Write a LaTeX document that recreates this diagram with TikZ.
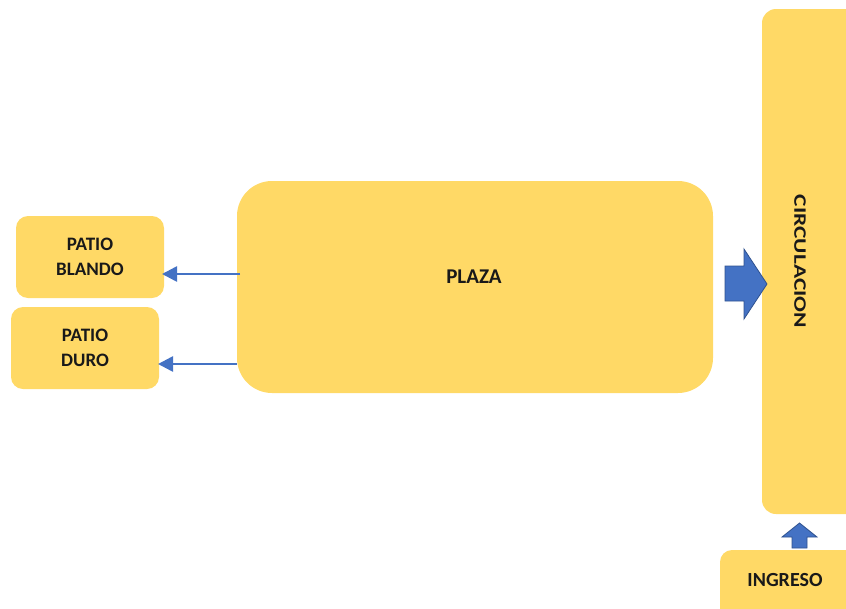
\documentclass[tikz,border=0pt]{standalone}
\usepackage{fontspec}
\setmainfont{Carlito}
\usetikzlibrary{arrows.meta}
\definecolor{boxy}{HTML}{FFD966}
\definecolor{arrb}{HTML}{4472C4}
\definecolor{arrd}{HTML}{2F528F}
\tikzset{
  lbl/.style={font=\fontsize{#1}{25}\selectfont\bfseries, align=center, text=black!90, inner sep=0pt},
  thinarrow/.style={draw=arrb, line width=2.6pt, -{Triangle[length=15pt,width=15pt]}},
  blockarrow/.style={fill=arrb, draw=arrd, line width=0.8pt},
}
\begin{document}
\begin{tikzpicture}[x=1pt,y=-1pt]
\useasboundingbox (0,0) rectangle (846,608);
\clip (0,0) rectangle (846,608);
% boxes
\fill[boxy, rounded corners=35pt] (237,181) rectangle (713,393);
\node[lbl=21] (plaza) at (474,276.5) {PLAZA};
\coordinate (pl1) at (240,274);
\coordinate (pl2) at (237,364);
\fill[boxy, rounded corners=12pt] (16,216) rectangle (164,298);
\node[lbl=19] (blando) at (90,257) {PATIO\\BLANDO};
\coordinate (bl) at (162,274);
\fill[boxy, rounded corners=12pt] (11,307) rectangle (159,389);
\node[lbl=19] (duro) at (85,348) {PATIO\\DURO};
\coordinate (du) at (158,364);
\fill[boxy, rounded corners=14pt] (762,9) rectangle (870,514);
\node[lbl=17.5, rotate=-90] (circ) at (800,261.5) {\scalebox{1.34}[1]{CIRCULACION}};
\fill[boxy, rounded corners=12pt] (720,550) rectangle (870,640);
\node[lbl=20] (ingreso) at (785,580) {INGRESO};
% thin arrows
\draw[thinarrow] (pl1) -- (bl);
\draw[thinarrow] (pl2) -- (du);
% block arrow right
\filldraw[blockarrow]
  (725,266) -- (744,266) -- (744,249) -- (767,284) -- (744,319) -- (744,301) -- (725,301) -- cycle;
% block arrow up
\filldraw[blockarrow]
  (792,548) -- (792,537) -- (782,537) -- (799.5,523) -- (817,537) -- (807,537) -- (807,548) -- cycle;
\end{tikzpicture}
\end{document}
